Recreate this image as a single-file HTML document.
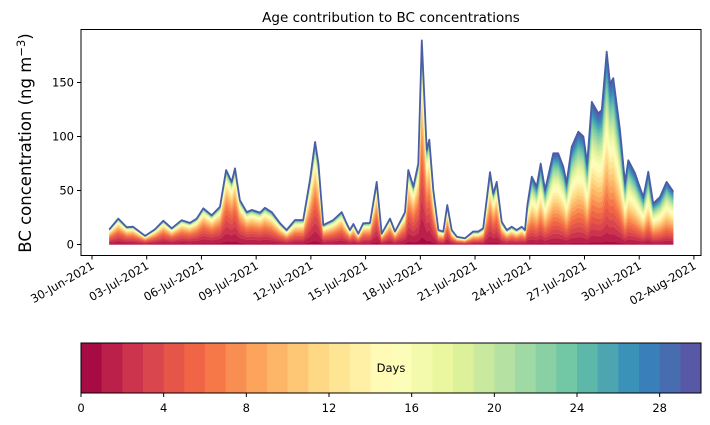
<!DOCTYPE html>
<html><head><meta charset="utf-8">
<style>
html,body{margin:0;padding:0;background:#fff;}
svg{display:block;font-family:"DejaVu Sans","Liberation Sans",sans-serif;}
</style></head>
<body>
<svg id="chart" width="710" height="425" viewBox="0 0 710 425">
<text x="391" y="22" font-size="13.5" text-anchor="middle">Age contribution to BC concentrations</text>
<text transform="translate(31,143) rotate(-90)" font-size="16.5" text-anchor="middle">BC concentration (ng m<tspan dy="-6" font-size="11.5">−3</tspan><tspan dy="6">)</tspan></text>
<g id="layers"></g>
<g id="axes"></g>
<g id="cbar"></g>
</svg>
<script>
// days since 30-Jun-2021 00:00
const days=[0.95,1.44,1.90,2.25,2.91,3.45,3.91,4.37,4.92,5.37,5.74,6.10,6.56,7.02,7.35,7.66,7.84,8.11,8.48,8.76,9.21,9.48,9.85,10.31,10.67,11.13,11.58,11.95,12.23,12.41,12.68,13.23,13.69,13.96,14.14,14.33,14.60,14.87,15.24,15.61,15.88,
16.34,16.61,16.89,17.16,17.34,17.62,17.89,18.08,18.26,18.35,18.49,18.71,18.99,19.26,19.48,19.72,20.00,20.45,20.90,21.18,21.45,21.82,22.00,22.19,22.46,22.74,23.01,23.28,23.56,23.74,
23.87,24.11,24.38,24.60,24.84,25.29,25.56,25.84,26.02,26.30,26.66,26.94,27.15,27.40,27.76,27.95,28.22,28.40,28.58,28.95,29.22,29.40,29.77,29.95,30.23,30.50,30.77,31.14,31.50,31.87];
const totals=[14,24,16,16.5,8,14,22,15,22.5,20,24,33.5,27,35,69,58,70.5,41,30,32,29.5,34,30,19.6,13.4,22.7,22.7,60,95,75,18,22.7,30,19.6,13.4,19,10,19.6,20,58,10,
24,12,21,30,69,53.5,75,189,121,87.5,97,50.5,13.4,12,36.6,13.4,7.2,5.7,12,12,15,67,47,58,21,13.4,16.5,13.4,16.5,13.4,
36.6,62.8,53.5,75,50.5,84.4,84.4,72,57,90.5,104.4,100,75,132,121.5,124.5,178.5,149,154,106,57,78,66,57,44,67.4,38,44,58,49];
const ageDays=[0,8,11,17,18.5,21,23.8,24,27,29,32];
const ageScale=[9,9,11,9,10,12,10,24,40,45,40];
const yTicks=[0,50,100,150];
const xTickLabels=["30-Jun-2021","03-Jul-2021","06-Jul-2021","09-Jul-2021","12-Jul-2021","15-Jul-2021","18-Jul-2021","21-Jul-2021","24-Jul-2021","27-Jul-2021","30-Jul-2021","02-Aug-2021"];
const xTickDays=[0,3,6,9,12,15,18,21,24,27,30,33];
const cbTicks=[0,4,8,12,16,20,24,28];
const nLayers=30;

const X=d=>92+d*18.24, Y=v=>244.5-v*1.08;
const NS="http://www.w3.org/2000/svg";
function mk(t,a,p){const e=document.createElementNS(NS,t);for(const k in a)e.setAttribute(k,a[k]);p.appendChild(e);return e;}
const spec=["#9e0142","#d53e4f","#f46d43","#fdae61","#fee08b","#ffffbf","#e6f598","#abdda4","#66c2a5","#3288bd","#5e4fa2"];
function hex(h){return [1,3,5].map(i=>parseInt(h.substr(i,2),16));}
function cmap(t){t=Math.max(0,Math.min(1,t));const s=t*10,i=Math.min(9,Math.floor(s)),f=s-i;const a=hex(spec[i]),b=hex(spec[i+1]);return "rgb("+a.map((v,j)=>Math.round(v+(b[j]-v)*f)).join(",")+")";}
function tauAt(d){for(let i=0;i<ageDays.length-1;i++){if(d<=ageDays[i+1]){const f=(d-ageDays[i])/(ageDays[i+1]-ageDays[i]);return ageScale[i]+(ageScale[i+1]-ageScale[i])*f;}}return ageScale[ageScale.length-1];}

const L=document.getElementById("layers");
const cum=days.map(()=>0);
const fr=days.map((d)=>{const tau=tauAt(d);const w=[];let s=0;for(let k=0;k<nLayers;k++){const v=(k===0?0.35:1)*Math.exp(-k/tau);w.push(v);s+=v;}return w.map(v=>v/s);});
for(let k=0;k<nLayers;k++){
  const lo=cum.slice();
  days.forEach((d,i)=>{cum[i]+=totals[i]*fr[i][k];});
  let p="M"+days.map((d,i)=>X(d).toFixed(1)+","+Y(cum[i]).toFixed(1)).join("L");
  for(let i=days.length-1;i>=0;i--)p+="L"+X(days[i]).toFixed(1)+","+Y(lo[i]).toFixed(1);
  const e=mk("path",{d:p+"Z",fill:cmap((k+0.5)/nLayers),stroke:cmap((k+0.5)/nLayers),"stroke-width":"0.3"},L);
  
  
}
const tl=mk("path",{d:"M"+days.map((d,i)=>X(d).toFixed(1)+","+Y(totals[i]).toFixed(1)).join("L"),fill:"none",stroke:"#4a5ea8","stroke-width":"1.8","stroke-linejoin":"round"},L);



const A=document.getElementById("axes");
mk("rect",{x:81,y:29.5,width:620,height:226,fill:"none",stroke:"#000","stroke-width":"1"},A);
yTicks.forEach(v=>{
  mk("line",{x1:77,x2:81,y1:Y(v),y2:Y(v),stroke:"#000"},A);
  const t=mk("text",{x:74,y:Y(v)+4,"font-size":"11.5","text-anchor":"end"},A);t.textContent=v;
  
  
});
xTickDays.forEach((d,i)=>{
  const x=X(d);
  mk("line",{x1:x,x2:x,y1:255.5,y2:259.5,stroke:"#000"},A);
  const t=mk("text",{transform:"translate("+(x+3)+",268) rotate(-30)","font-size":"11.5","text-anchor":"end"},A);t.textContent=xTickLabels[i];
  
  
});

const C=document.getElementById("cbar");
const cx0=81,cw=620,cy=343,ch=50;
for(let k=0;k<nLayers;k++){
  const r=mk("rect",{x:cx0+k*cw/nLayers,y:cy,width:cw/nLayers+0.5,height:ch,fill:cmap((k+0.5)/nLayers)},C);
  
  
}
mk("rect",{x:cx0,y:cy,width:cw,height:ch,fill:"none",stroke:"#000"},C);
cbTicks.forEach(v=>{
  const x=cx0+v*cw/nLayers;
  mk("line",{x1:x,x2:x,y1:cy+ch,y2:cy+ch+4,stroke:"#000"},C);
  const t=mk("text",{x:x,y:412,"font-size":"11.5","text-anchor":"middle"},C);t.textContent=v;
  
  
});
const dl=mk("text",{x:391,y:372,"font-size":"11.5","text-anchor":"middle"},C);dl.textContent="Days";


</script>
</body></html>
